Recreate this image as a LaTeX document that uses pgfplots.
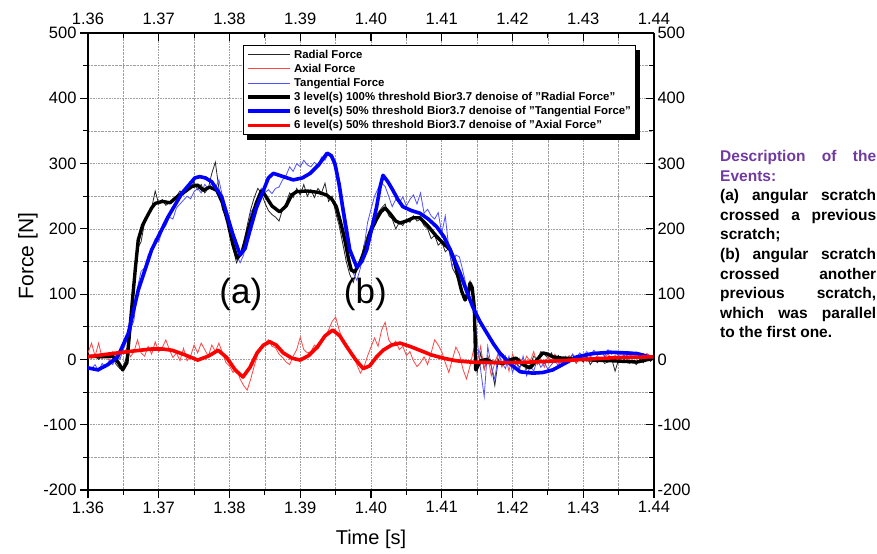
\documentclass[border=0pt]{standalone}
\usepackage{fontspec}
\setmainfont{Liberation Sans}
\usepackage{pgfplots}
\usepackage{pgfplotstable}
\pgfplotsset{compat=1.18}
\definecolor{descpurple}{RGB}{112,58,160}
\definecolor{thinred}{RGB}{255,70,70}
\definecolor{thinblue}{RGB}{80,80,255}

\pgfplotstableread{
t F
1.3600 5
1.3620 4
1.3635 5
1.3643 -5
1.3649 -16
1.3655 -5
1.3662 81
1.3667 140
1.3671 183
1.3677 205
1.3683 218
1.3690 232
1.3695 239
1.3705 242
1.3716 240
1.3727 250
1.3737 257
1.3747 265
1.3755 267
1.3763 259
1.3772 264
1.3782 259
1.3790 240
1.3798 209
1.3805 175
1.3811 155
1.3818 165
1.3828 205
1.3838 240
1.3845 258
1.3850 252
1.3860 235
1.3871 226
1.3880 235
1.3888 252
1.3895 257
1.3910 258
1.3925 256
1.3937 252
1.3945 245
1.3951 234
1.3957 210
1.3963 183
1.3968 155
1.3972 137
1.3977 134
1.3985 150
1.3992 170
1.3999 195
1.4008 215
1.4014 226
1.4020 232
1.4028 222
1.4035 212
1.4041 209
1.4050 212
1.4060 217
1.4069 217
1.4080 205
1.4093 188
1.4104 176
1.4112 168
1.4118 150
1.4123 127
1.4128 105
1.4133 91
1.4137 100
1.4140 117
1.4143 110
1.4146 80
1.4147 40
1.4148 -16
1.4150 -12
1.4155 -2
1.4163 0
1.4170 -4
1.4187 -6
1.4196 -1
1.4205 2
1.4215 -8
1.4225 -13
1.4235 0
1.4243 10
1.4250 8
1.4257 4
1.4270 2
1.4290 1
1.4314 -1
1.4340 -2
1.4376 -4
1.4400 2
}\radsmooth

\pgfplotstableread{
t F
1.3600 -13
1.3614 -16
1.3628 -8
1.3642 4
1.3657 40
1.3671 106
1.3690 168
1.3713 218
1.3733 255
1.3751 278
1.3758 280
1.3766 278
1.3775 272
1.3789 249
1.3804 194
1.3815 160
1.3822 170
1.3829 198
1.3838 232
1.3848 259
1.3855 278
1.3862 285
1.3876 280
1.3890 275
1.3903 278
1.3914 285
1.3926 298
1.3938 316
1.3944 312
1.3949 300
1.3955 268
1.3960 233
1.3970 168
1.3980 141
1.3987 150
1.3994 168
1.4001 200
1.4008 234
1.4013 265
1.4017 282
1.4024 272
1.4031 259
1.4038 245
1.4045 234
1.4057 228
1.4069 224
1.4081 215
1.4093 203
1.4103 188
1.4112 168
1.4119 150
1.4126 132
1.4135 105
1.4144 80
1.4154 58
1.4164 40
1.4173 24
1.4182 10
1.4196 -6
1.4211 -19
1.4229 -21
1.4243 -20
1.4257 -16
1.4274 -6
1.4291 4
1.4314 9
1.4338 11
1.4360 10
1.4376 9
1.4400 2
}\tansmooth

\pgfplotstableread{
t F
1.3600 4
1.3620 7
1.3642 10
1.3665 13
1.3690 16
1.3705 16
1.3719 14
1.3737 7
1.3755 -1
1.3770 5
1.3784 14
1.3796 3
1.3808 -16
1.3819 -27
1.3829 -12
1.3839 10
1.3848 22
1.3857 27
1.3866 22
1.3876 10
1.3888 2
1.3900 -1
1.3912 6
1.3924 19
1.3935 36
1.3946 45
1.3956 36
1.3966 19
1.3978 0
1.3989 -14
1.3998 -10
1.4008 4
1.4017 14
1.4029 22
1.4041 25
1.4055 20
1.4069 14
1.4085 7
1.4102 2
1.4120 -2
1.4140 -4
1.4170 -5
1.4200 -5
1.4250 -3
1.4300 0
1.4350 3
1.4400 4
}\axsmooth

\pgfplotstableread{
t F
1.3600 8
1.3605 2
1.3610 6
1.3615 0
1.3620 7
1.3625 3
1.3630 9
1.3635 2
1.3640 -8
1.3645 -14
1.3650 -10
1.3655 5
1.3660 40
1.3665 120
1.3670 170
1.3675 180
1.3680 210
1.3685 222
1.3690 232
1.3695 258
1.3700 238
1.3705 245
1.3710 236
1.3715 240
1.3720 246
1.3725 250
1.3730 258
1.3735 252
1.3740 266
1.3745 262
1.3750 272
1.3755 260
1.3760 268
1.3765 255
1.3770 262
1.3775 285
1.3780 302
1.3785 262
1.3790 230
1.3795 218
1.3800 200
1.3805 170
1.3810 148
1.3815 160
1.3820 178
1.3825 205
1.3830 230
1.3835 248
1.3840 262
1.3845 255
1.3850 240
1.3855 228
1.3860 222
1.3865 218
1.3870 212
1.3875 230
1.3880 240
1.3885 255
1.3890 248
1.3895 262
1.3900 252
1.3905 268
1.3910 250
1.3915 260
1.3920 248
1.3925 262
1.3930 255
1.3935 270
1.3940 242
1.3945 250
1.3950 225
1.3955 205
1.3960 178
1.3965 150
1.3970 130
1.3975 118
1.3980 138
1.3985 148
1.3990 175
1.3995 190
1.4000 205
1.4005 215
1.4010 225
1.4015 232
1.4020 238
1.4025 220
1.4030 215
1.4035 200
1.4040 210
1.4045 205
1.4050 215
1.4055 210
1.4060 220
1.4065 212
1.4070 215
1.4075 205
1.4080 200
1.4085 185
1.4090 190
1.4095 175
1.4100 180
1.4105 165
1.4110 170
1.4115 140
1.4120 130
1.4125 118
1.4130 95
1.4135 100
1.4140 120
1.4145 95
1.4150 -20
1.4155 10
1.4160 -15
1.4165 5
1.4170 -10
1.4175 -40
1.4180 0
1.4185 -10
1.4190 5
1.4195 -8
1.4200 2
1.4205 -5
1.4210 -12
1.4215 -5
1.4220 -15
1.4225 -8
1.4230 5
1.4235 0
1.4240 12
1.4245 8
1.4250 2
1.4255 10
1.4260 -2
1.4265 6
1.4270 -5
1.4275 4
1.4280 0
1.4285 8
1.4290 -6
1.4295 2
1.4300 -4
1.4305 5
1.4310 -8
1.4315 0
1.4320 -5
1.4325 3
1.4330 -6
1.4335 -4
1.4340 2
1.4345 -18
1.4350 0
1.4355 -5
1.4360 4
1.4365 -6
1.4370 -2
1.4375 -8
1.4380 0
1.4385 -5
1.4390 6
1.4395 -3
1.4400 3
}\radraw

\pgfplotstableread{
t F
1.3600 10
1.3605 25
1.3610 5
1.3615 25
1.3620 2
1.3625 8
1.3630 -2
1.3635 12
1.3640 5
1.3645 15
1.3650 8
1.3655 18
1.3660 4
1.3665 12
1.3670 30
1.3675 10
1.3680 5
1.3685 20
1.3690 8
1.3695 27
1.3700 12
1.3705 18
1.3710 30
1.3715 15
1.3720 3
1.3725 10
1.3730 -2
1.3735 17
1.3740 -2
1.3745 5
1.3750 22
1.3755 10
1.3760 25
1.3765 15
1.3770 5
1.3775 22
1.3780 12
1.3785 25
1.3790 10
1.3795 -5
1.3800 -10
1.3805 -20
1.3810 -15
1.3815 -30
1.3820 -40
1.3825 -47
1.3830 -30
1.3835 -10
1.3840 8
1.3845 15
1.3850 25
1.3855 30
1.3860 20
1.3865 18
1.3870 8
1.3875 3
1.3880 -4
1.3885 -8
1.3890 5
1.3895 15
1.3900 34
1.3905 15
1.3910 10
1.3915 12
1.3920 22
1.3925 16
1.3930 25
1.3935 35
1.3940 45
1.3945 58
1.3950 65
1.3955 45
1.3960 30
1.3965 22
1.3970 10
1.3975 5
1.3980 -8
1.3985 -21
1.3990 -12
1.3995 5
1.4000 19
1.4005 33
1.4010 20
1.4015 45
1.4020 57
1.4025 30
1.4030 22
1.4035 28
1.4040 15
1.4045 20
1.4050 6
1.4055 12
1.4060 -2
1.4065 -11
1.4070 -5
1.4075 4
1.4080 -8
1.4085 10
1.4090 30
1.4095 22
1.4100 12
1.4105 -5
1.4110 -20
1.4115 0
1.4120 19
1.4125 8
1.4130 -15
1.4135 -30
1.4140 -10
1.4145 15
1.4150 -5
1.4155 20
1.4160 -15
1.4165 5
1.4170 -25
1.4175 -5
1.4180 10
1.4185 -12
1.4190 5
1.4195 -18
1.4200 8
1.4205 -5
1.4210 2
1.4215 -10
1.4220 5
1.4225 -3
1.4230 12
1.4235 -8
1.4240 0
1.4245 -12
1.4250 5
1.4255 -2
1.4260 8
1.4265 -6
1.4270 3
1.4275 -4
1.4280 6
1.4285 0
1.4290 -5
1.4295 4
1.4300 8
1.4305 -2
1.4310 5
1.4315 0
1.4320 6
1.4325 -3
1.4330 4
1.4335 8
1.4340 2
1.4345 6
1.4350 0
1.4355 5
1.4360 8
1.4365 3
1.4370 10
1.4375 4
1.4380 7
1.4385 2
1.4390 9
1.4395 5
1.4400 6
}\axraw

\pgfplotstableread{
t F
1.3600 -10
1.3605 -14
1.3610 -8
1.3615 -18
1.3620 -6
1.3625 -12
1.3630 -2
1.3635 -8
1.3640 5
1.3645 0
1.3650 15
1.3655 30
1.3660 45
1.3665 60
1.3670 110
1.3675 135
1.3680 140
1.3685 160
1.3690 168
1.3695 185
1.3700 180
1.3705 198
1.3710 205
1.3715 218
1.3720 215
1.3725 232
1.3730 238
1.3735 244
1.3740 250
1.3745 246
1.3750 257
1.3755 262
1.3760 255
1.3765 268
1.3770 262
1.3775 270
1.3780 262
1.3785 275
1.3790 250
1.3795 230
1.3800 210
1.3805 185
1.3810 160
1.3815 148
1.3820 160
1.3825 195
1.3830 225
1.3835 234
1.3840 250
1.3845 262
1.3850 255
1.3855 260
1.3860 254
1.3865 262
1.3870 264
1.3875 275
1.3880 282
1.3885 295
1.3890 288
1.3895 300
1.3900 295
1.3905 305
1.3910 298
1.3915 295
1.3920 302
1.3925 296
1.3930 310
1.3935 305
1.3940 316
1.3945 305
1.3950 290
1.3955 255
1.3960 220
1.3965 180
1.3970 150
1.3975 132
1.3980 121
1.3985 140
1.3990 170
1.3995 209
1.4000 230
1.4005 250
1.4010 262
1.4015 270
1.4020 265
1.4025 250
1.4030 234
1.4035 245
1.4040 240
1.4045 249
1.4050 235
1.4055 245
1.4060 252
1.4065 238
1.4070 255
1.4075 224
1.4080 230
1.4085 220
1.4090 215
1.4095 225
1.4100 193
1.4105 220
1.4110 170
1.4115 142
1.4120 160
1.4125 157
1.4130 135
1.4135 111
1.4140 95
1.4145 80
1.4150 30
1.4155 -16
1.4160 -57
1.4165 20
1.4170 -10
1.4175 -31
1.4180 10
1.4185 -5
1.4190 -14
1.4195 5
1.4200 -20
1.4205 -5
1.4210 -15
1.4215 5
1.4220 -25
1.4225 -10
1.4230 -18
1.4235 0
1.4240 -12
1.4245 -5
1.4250 -15
1.4255 -8
1.4260 -2
1.4265 -10
1.4270 0
1.4275 5
1.4280 -5
1.4285 8
1.4290 2
1.4295 10
1.4300 5
1.4305 12
1.4310 6
1.4315 14
1.4320 8
1.4325 12
1.4330 5
1.4335 15
1.4340 8
1.4345 12
1.4350 6
1.4355 10
1.4360 4
1.4365 12
1.4370 8
1.4375 10
1.4380 4
1.4385 9
1.4390 2
1.4395 6
1.4400 3
}\tanraw

\pgfplotsset{
  commonaxis/.style={
    at={(88bp,64bp)}, anchor=south west,
    scale only axis, width=566bp, height=457bp,
    xmin=1.36, xmax=1.44, ymin=-200, ymax=500,
    xtick={1.36,1.37,1.38,1.39,1.40,1.41,1.42,1.43,1.44},
    ytick={-200,-100,0,100,200,300,400,500},
    minor x tick num=1, minor y tick num=1,
    scaled x ticks=false, scaled y ticks=false,
    /pgf/number format/assume math mode=true,
    xticklabel style={font=\fontsize{16.5bp}{18bp}\selectfont,
      /pgf/number format/.cd, fixed, fixed zerofill, precision=2},
    yticklabel style={font=\fontsize{16.5bp}{18bp}\selectfont},
    axis line style={line width=1.6bp},
    tick style={line width=1.1bp, black},
    major tick length=8bp, minor tick length=5bp,
  }
}

\begin{document}
\begin{tikzpicture}
\path[use as bounding box] (0,0) rectangle (877bp,554bp);
\begin{axis}[commonaxis,
  axis x line*=bottom, axis y line*=left,
  tick align=outside,
  grid=both,
  grid style={densely dotted, gray!75, line width=0.6bp},
  major grid style={densely dotted, gray!75, line width=0.6bp},
  xlabel={Time [s]}, ylabel={Force [N]},
  xlabel style={font=\fontsize{20bp}{22bp}\selectfont, at={(axis description cs:0.5,-0.107)}, anchor=center},
  ylabel style={font=\fontsize{21bp}{23bp}\selectfont, at={(axis description cs:-0.106,0.512)}, anchor=center, rotate=0},
  legend style={at={(0.274,0.974)}, anchor=north west, draw=black, line width=0.8bp,
    fill=white, inner xsep=3bp, inner ysep=2.5bp, row sep=0.4bp,
    font=\bfseries\fontsize{11.4bp}{13bp}\selectfont, name=lgd},
  legend cell align=left,
  legend image code/.code={\path (0,0) -- (14bp,0); \draw[#1] (14bp,0) -- (42bp,0);},
]
\addplot[black!85, line width=0.8bp] table[x=t,y=F] {\radraw};
\addlegendentry{Radial Force}
\addplot[thinred, line width=0.8bp] table[x=t,y=F] {\axraw};
\addlegendentry{Axial Force}
\addplot[thinblue, line width=0.8bp] table[x=t,y=F] {\tanraw};
\addlegendentry{Tangential Force}
\addplot[black, line width=3.4bp, line join=round] table[x=t,y=F] {\radsmooth};
\addlegendentry{3 level(s) 100\% threshold Bior3.7 denoise of "Radial Force"}
\addplot[blue, line width=3.6bp, line join=round] table[x=t,y=F] {\tansmooth};
\addlegendentry{6 level(s) 50\% threshold Bior3.7 denoise of "Tangential Force"}
\addplot[red, line width=3.6bp, line join=round] table[x=t,y=F] {\axsmooth};
\addlegendentry{6 level(s) 50\% threshold Bior3.7 denoise of "Axial Force"}
\node[font=\fontsize{35bp}{38bp}\selectfont] at (axis cs:1.3816,100) {(a)};
\node[font=\fontsize{35bp}{38bp}\selectfont] at (axis cs:1.3992,100) {(b)};
\end{axis}
\fill[black] ([xshift=4bp]lgd.south west) rectangle ([xshift=4bp,yshift=-5bp]lgd.south east);
\fill[black] ([yshift=-5bp]lgd.north east) rectangle ([xshift=4bp,yshift=-5bp]lgd.south east);
\begin{axis}[commonaxis,
  axis x line*=top, axis y line*=right,
  tick align=inside,
  xticklabel style={/tikz/yshift=5bp},
]
\end{axis}
\node[anchor=north west, inner sep=0pt, text width=156bp, align=justify,
  font=\bfseries\fontsize{15.5bp}{19.6bp}\selectfont] at (720bp,404bp)
  {\textcolor{descpurple}{Description of the\linebreak Events:}\\
   (a) angular scratch\linebreak crossed a previous\linebreak scratch;\\
   (b) angular scratch\linebreak crossed another\linebreak previous scratch,\linebreak which was parallel\linebreak to the first one.};
\end{tikzpicture}
\end{document}
